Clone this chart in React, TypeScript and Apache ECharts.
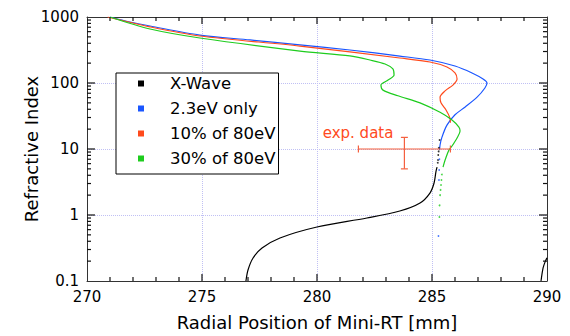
import React, { useEffect, useRef } from "react";
import * as echarts from "echarts";

const seriesNames = ["X-Wave", "2.3eV only", "10% of 80eV", "30% of 80eV"];
const seriesColors = ["#000000", "#1a56ff", "#ff4a1c", "#1ecc1e"];
const yTickLabels = ["0.1", "1", "10", "100", "1000"];

const xWaveLine: number[][] = [
  [276.91, 0.1], [277.0, 0.147], [277.22, 0.223], [277.61, 0.316], [278.39, 0.449],
  [280.0, 0.658], [282.17, 0.9], [283.6, 1.15], [284.48, 1.52], [284.91, 2.15],
  [285.09, 3.05], [285.17, 4.5], [285.22, 5.3],
];
const xWaveDots: number[][] = [
  [285.25, 6.2], [285.26, 6.8], [285.27, 8.1], [285.29, 9.2], [285.3, 10.4], [285.33, 13.7],
];
const xWaveEdge: number[][] = [
  [289.74, 0.1], [289.83, 0.158], [289.93, 0.2], [290.0, 0.224],
];
const blueLine: number[][] = [
  [271.0, 1000], [271.87, 840], [272.74, 731], [274.91, 533], [277.09, 449],
  [279.26, 377], [281.43, 316], [283.6, 256], [284.91, 223], [286.0, 181],
  [286.74, 142], [287.22, 115], [287.39, 100], [287.3, 84], [286.96, 61],
  [286.43, 43], [286.0, 33], [285.65, 23], [285.43, 15], [285.35, 11.5], [285.33, 9.7],
];
const blueDots: number[][] = [[285.32, 7.0], [285.31, 4.8], [285.3, 3.4], [285.28, 0.48]];
const redLine: number[][] = [
  [270.9, 1000], [272.74, 708], [274.91, 515], [279.26, 363], [283.6, 239],
  [284.91, 208], [285.65, 175], [286.0, 142], [286.09, 115], [285.91, 93],
  [285.57, 76], [285.35, 61], [285.39, 50], [285.61, 39], [285.78, 29.5], [285.8, 25],
];
const greenLine: number[][] = [
  [271.0, 1000], [272.74, 658], [274.91, 481], [279.26, 305], [281.43, 257],
  [282.3, 223], [282.96, 194], [283.3, 163], [283.35, 132], [283.09, 111],
  [282.78, 93], [282.87, 78], [283.52, 64], [284.48, 50], [285.35, 36],
  [285.87, 27.5], [286.17, 21.5], [286.22, 18.8], [286.09, 14.7], [285.87, 11.1],
  [285.74, 9.7], [285.57, 6.8], [285.48, 5.3],
];
const greenDots: number[][] = [
  [285.43, 4.1], [285.41, 3.4], [285.39, 2.85], [285.37, 2.4], [285.35, 2.0],
  [285.33, 1.4], [285.32, 0.93],
];
const expX = [283.8];
const expY = [10];
const expXLow = [281.8];
const expXHigh = [285.8];
const expYLow = [5];
const expYHigh = [15];

const X_MIN = 270;
const X_MAX = 290;
const Y_MIN = 0.1;
const Y_MAX = 1000;
const xMajorTicks = [275, 280, 285];
const xMinorTicks = [271, 272, 273, 274, 276, 277, 278, 279, 281, 282, 283, 284, 286, 287, 288, 289];
const yMajorTicks = [1, 10, 100];
const decades = [0.1, 1, 10, 100];
const minorMultipliers = [2, 3, 4, 5, 6, 7, 8, 9];

const FONT = "DejaVu Sans";
const AXIS_COLOR = "#333";
const TICK_COLOR = "#111";
const GRID_COLOR = "#c0c0f4";

export default function App() {
  const ref = useRef<HTMLDivElement>(null);
  useEffect(() => {
    if (!ref.current) return;
    const chart = echarts.init(ref.current, undefined, { renderer: "svg" });

    const lineCommon = (name: string, color: string, data: number[][]) => ({
      type: "line",
      name,
      data,
      color,
      showSymbol: false,
      symbol: "none",
      smooth: 0.3,
      lineStyle: { width: 1.2, color },
      xAxisIndex: 0,
      yAxisIndex: 0,
      z: 3,
    });
    const dots = (name: string, color: string, data: number[][]) => ({
      type: "scatter",
      name,
      data,
      color,
      symbolSize: 1.8,
      itemStyle: { color },
      xAxisIndex: 0,
      yAxisIndex: 0,
      z: 3,
    });
    const axisLine = { show: true, onZero: false, lineStyle: { color: AXIS_COLOR, width: 1 } };
    const option: any = {
      animation: false,
      textStyle: { fontFamily: FONT },
      grid: { left: 87, right: 23, top: 17, bottom: 55, containLabel: false },
      legend: {
        data: seriesNames.map((n) => ({ name: n, icon: "rect" })),
        orient: "vertical",
        left: 116,
        top: 73,
        itemWidth: 6,
        itemHeight: 6,
        itemGap: 8,
        padding: [2, 3, 7, 22],
        borderColor: "#000",
        borderWidth: 1,
        backgroundColor: "#fff",
        selectedMode: false,
        textStyle: {
          fontFamily: FONT,
          fontSize: 16.5,
          color: "#000",
          lineHeight: 16,
          padding: [0, 0, 0, 21],
        },
      },
      xAxis: [
        {
          type: "value",
          min: X_MIN,
          max: X_MAX,
          interval: 5,
          position: "bottom",
          name: "Radial Position of Mini-RT [mm]",
          nameLocation: "middle",
          nameGap: 32,
          nameMoveOverlap: false,
          nameTextStyle: { fontSize: 18, color: "#000", fontFamily: FONT },
          axisLine,
          axisTick: { show: false },
          axisLabel: { fontSize: 15, color: "#000", margin: 8, fontFamily: FONT },
          splitLine: { show: true, lineStyle: { type: "dotted", color: GRID_COLOR, width: 1 } },
        },
        {
          type: "value",
          min: X_MIN,
          max: X_MAX,
          interval: 5,
          position: "top",
          axisLine,
          axisTick: { show: false },
          axisLabel: { show: false },
          splitLine: { show: false },
        },
      ],
      yAxis: [
        {
          type: "log",
          logBase: 10,
          min: Y_MIN,
          max: Y_MAX,
          position: "left",
          name: "Refractive Index",
          nameLocation: "middle",
          nameGap: 47,
          nameMoveOverlap: false,
          nameTextStyle: { fontSize: 18, color: "#000", fontFamily: FONT },
          axisLine,
          axisTick: { show: false },
          axisLabel: {
            fontSize: 15,
            color: "#000",
            margin: 8,
            fontFamily: FONT,
            formatter: (v: number) => {
              const e = Math.round(Math.log10(v)) + 1;
              return yTickLabels[e] ?? String(v);
            },
          },
          splitLine: { show: true, lineStyle: { type: "dotted", color: GRID_COLOR, width: 1 } },
        },
        {
          type: "log",
          logBase: 10,
          min: Y_MIN,
          max: Y_MAX,
          position: "right",
          axisLine,
          axisTick: { show: false },
          axisLabel: { show: false },
          splitLine: { show: false },
        },
      ],
      series: [
        lineCommon(seriesNames[0], seriesColors[0], xWaveLine),
        dots(seriesNames[0], seriesColors[0], xWaveDots),
        lineCommon(seriesNames[0], seriesColors[0], xWaveEdge),
        lineCommon(seriesNames[1], seriesColors[1], blueLine),
        dots(seriesNames[1], seriesColors[1], blueDots),
        lineCommon(seriesNames[2], seriesColors[2], redLine),
        lineCommon(seriesNames[3], seriesColors[3], greenLine),
        dots(seriesNames[3], seriesColors[3], greenDots),
        {
          type: "custom",
          name: "exp. data",
          xAxisIndex: 0,
          yAxisIndex: 0,
          z: 4,
          data: expX.map((x, i) => [x, expY[i], expXLow[i], expXHigh[i], expYLow[i], expYHigh[i]]),
          renderItem: (_p: any, api: any) => {
            const c = api.coord([api.value(0), api.value(1)]);
            const l = api.coord([api.value(2), api.value(1)]);
            const r = api.coord([api.value(3), api.value(1)]);
            const lo = api.coord([api.value(0), api.value(4)]);
            const hi = api.coord([api.value(0), api.value(5)]);
            const st = { stroke: "#f5603f", lineWidth: 1.2 };
            const cap = 3.5;
            return {
              type: "group",
              children: [
                { type: "line", shape: { x1: l[0], y1: l[1], x2: r[0], y2: r[1] }, style: st },
                { type: "line", shape: { x1: l[0], y1: l[1] - cap, x2: l[0], y2: l[1] + cap }, style: st },
                { type: "line", shape: { x1: r[0], y1: r[1] - cap, x2: r[0], y2: r[1] + cap }, style: st },
                { type: "line", shape: { x1: lo[0], y1: lo[1], x2: hi[0], y2: hi[1] }, style: st },
                { type: "line", shape: { x1: lo[0] - cap, y1: lo[1], x2: lo[0] + cap, y2: lo[1] }, style: st },
                { type: "line", shape: { x1: hi[0] - cap, y1: hi[1], x2: hi[0] + cap, y2: hi[1] }, style: st },
                {
                  type: "text",
                  x: c[0] - 11,
                  y: c[1] - 16,
                  style: {
                    text: "exp. data",
                    fill: "#ff4a22",
                    fontSize: 15,
                    fontFamily: FONT,
                    align: "right",
                    verticalAlign: "middle",
                  },
                },
              ],
            };
          },
        },
      ],
    };
    chart.setOption(option);

    const toPx = (x: number, y: number) =>
      chart.convertToPixel({ gridIndex: 0 }, [x, y]) as number[];
    const tickEls: any[] = [];
    const st = { stroke: TICK_COLOR, lineWidth: 1.2 };
    const addV = (x: number, len: number) => {
      const b = toPx(x, Y_MIN);
      const t = toPx(x, Y_MAX);
      tickEls.push({ type: "line", z: 100, silent: true, shape: { x1: b[0], y1: b[1], x2: b[0], y2: b[1] - len }, style: st });
      tickEls.push({ type: "line", z: 100, silent: true, shape: { x1: t[0], y1: t[1], x2: t[0], y2: t[1] + len }, style: st });
    };
    const addH = (y: number, len: number) => {
      const l = toPx(X_MIN, y);
      const r = toPx(X_MAX, y);
      tickEls.push({ type: "line", z: 100, silent: true, shape: { x1: l[0], y1: l[1], x2: l[0] + len, y2: l[1] }, style: st });
      tickEls.push({ type: "line", z: 100, silent: true, shape: { x1: r[0] - len, y1: r[1], x2: r[0], y2: r[1] }, style: st });
    };
    xMajorTicks.forEach((x) => addV(x, 7));
    xMinorTicks.forEach((x) => addV(x, 4));
    yMajorTicks.forEach((y) => addH(y, 8));
    decades.forEach((d) => minorMultipliers.forEach((k) => addH(k * d, 4)));
    chart.setOption({ graphic: tickEls });

    return () => chart.dispose();
  }, []);
  return (
    <div
      ref={ref}
      style={{ position: "absolute", left: 0, top: 0, width: 570, height: 336, background: "#fff" }}
    />
  );
}
